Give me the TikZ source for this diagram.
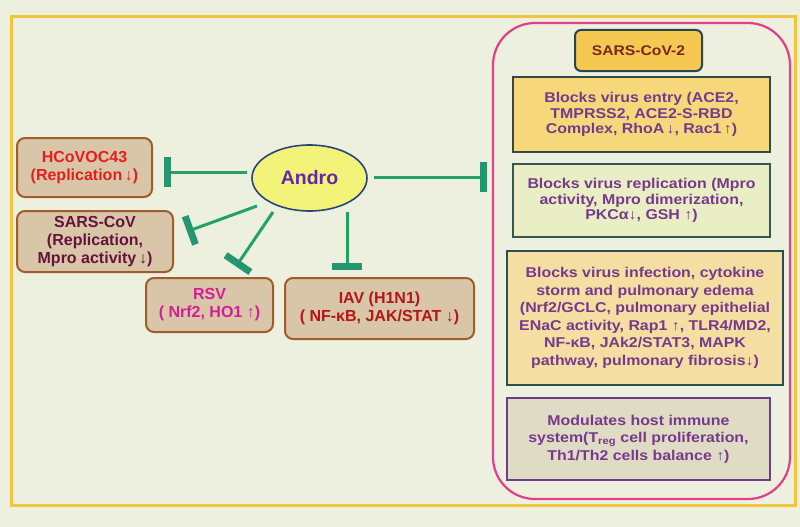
\documentclass[tikz,border=0pt]{standalone}
\usepackage{fontspec}
\setmainfont{Liberation Sans}
\newfontfamily\rfont{Liberation Sans}[FakeStretch=1.12]
\usetikzlibrary{shapes.geometric,arrows.meta}
\definecolor{bgc}{RGB}{237,240,222}
\definecolor{framec}{RGB}{242,196,60}
\definecolor{pinkc}{RGB}{226,62,140}
\definecolor{tanc}{RGB}{217,197,167}
\definecolor{brownc}{RGB}{160,92,42}
\definecolor{linec}{RGB}{34,163,98}
\definecolor{barc}{RGB}{36,150,112}
\definecolor{purpc}{RGB}{118,58,140}
\definecolor{androfill}{RGB}{243,243,122}
\definecolor{androdraw}{RGB}{40,70,120}
\definecolor{androtext}{RGB}{100,40,165}
\definecolor{hcovc}{RGB}{232,30,30}
\definecolor{sarsc}{RGB}{100,20,60}
\definecolor{rsvc}{RGB}{212,30,150}
\definecolor{iavc}{RGB}{180,22,22}
\definecolor{titlefill}{RGB}{245,200,82}
\definecolor{titledraw}{RGB}{40,70,80}
\definecolor{titletext}{RGB}{120,40,30}
\definecolor{entryfill}{RGB}{246,216,122}
\definecolor{entrydraw}{RGB}{52,72,72}
\definecolor{replfill}{RGB}{234,238,196}
\definecolor{repldraw}{RGB}{50,90,85}
\definecolor{infectfill}{RGB}{245,222,162}
\definecolor{infectdraw}{RGB}{40,80,80}
\definecolor{immunefill}{RGB}{223,219,196}
\definecolor{immunedraw}{RGB}{110,60,140}
\begin{document}
\begin{tikzpicture}[x=1pt,y=-1pt,
  lbox/.style={draw=brownc, fill=tanc, line width=2pt, rounded corners=8pt,
    align=center, inner sep=0pt, font=\fontsize{16}{18}\selectfont\bfseries},
  rbox/.style={line width=2pt, align=center, inner sep=0pt, text=purpc,
    font=\rfont\fontsize{14.2}{15.3}\selectfont\bfseries},
  rboxloose/.style={rbox, font=\rfont\fontsize{14.2}{17.5}\selectfont\bfseries},
  inh/.style={draw=linec, line width=3pt,
    -{Bar[width=30pt,line width=7pt,color=barc]}}]
\fill[bgc] (0,0) rectangle (800,527);
\useasboundingbox (0,0) rectangle (800,527);
\draw[framec, line width=3pt] (11,17) rectangle (795,505);
\draw[pinkc, line width=2.2pt, rounded corners=42pt] (493,23) rectangle (790,499);

% central node
\node[ellipse, draw=androdraw, fill=androfill, line width=1.6pt,
  minimum width=115pt, minimum height=66pt, inner sep=0pt,
  text=androtext, font=\fontsize{19.5}{22}\selectfont\bfseries] (andro) at (309.5,178) {Andro};

% left boxes
\node[lbox, minimum width=135pt, minimum height=59pt, text=hcovc] (hcov) at (84.5,167.5)
  {HCoVOC43\\(Replication\,↓)};
\node[lbox, minimum width=156pt, minimum height=61pt, text=sarsc] (sarscov) at (95,241.5)
  {SARS-CoV\\(Replication,\\Mpro activity\,↓)};
\node[lbox, minimum width=127pt, minimum height=54pt, text=rsvc] (rsv) at (209.5,305)
  {RSV\\( Nrf2, HO1 ↑)};
\node[lbox, minimum width=189pt, minimum height=61pt, text=iavc] (iav) at (379.5,308.5)
  {IAV (H1N1)\\( NF-κB, JAK/STAT ↓)};

% right panel
\node[draw=titledraw, fill=titlefill, line width=2pt, rounded corners=6pt,
  minimum width=127pt, minimum height=41pt, inner sep=0pt, text=titletext,
  font=\rfont\fontsize{14}{18}\selectfont\bfseries] (sars2) at (638.5,50.5) {SARS-CoV-2};
\node[rbox, draw=entrydraw, fill=entryfill, minimum width=257pt, minimum height=75pt] (entry) at (641.5,114.5)
  {Blocks virus entry (ACE2,\\TMPRSS2, ACE2-S-RBD\\Complex, RhoA\,↓, Rac1\,↑)};
\node[rbox, draw=repldraw, fill=replfill, minimum width=257pt, minimum height=73pt] (repl) at (641.5,200.5)
  {Blocks virus replication (Mpro\\activity, Mpro dimerization,\\PKCα↓, GSH ↑)};
\node[rboxloose, draw=infectdraw, fill=infectfill, minimum width=276pt, minimum height=134pt] (infect) at (645,318)
  {Blocks virus infection, cytokine\\storm and pulmonary edema\\(Nrf2/GCLC, pulmonary epithelial\\ENaC activity, Rap1 ↑, TLR4/MD2,\\NF-κB, JAk2/STAT3, MAPK\\pathway, pulmonary fibrosis↓)};
\node[rboxloose, draw=immunedraw, fill=immunefill, minimum width=263pt, minimum height=82pt] (immune) at (638.5,439)
  {Modulates host immune\\system(T\textsubscript{reg} cell proliferation,\\Th1/Th2 cells balance ↑)};

% inhibition ends
\coordinate (hcovT) at (164,172);
\coordinate (sarsT) at (187,231.5);
\coordinate (rsvT) at (236,266.5);
\coordinate (iavT) at (347,270);
\coordinate (sars2T) at (487,177);

\draw[inh] ([shift={(-62.5,-6)}]andro.center) -- (hcovT);
\draw[inh] ([shift={(-52.5,28)}]andro.center) -- (sarsT);
\draw[inh] ([shift={(-36.5,34)}]andro.center) -- (rsvT);
\draw[inh] ([shift={(37.5,34)}]andro.center) -- (iavT);
\draw[inh] ([shift={(64.5,-1)}]andro.center) -- (sars2T);
\end{tikzpicture}
\end{document}
